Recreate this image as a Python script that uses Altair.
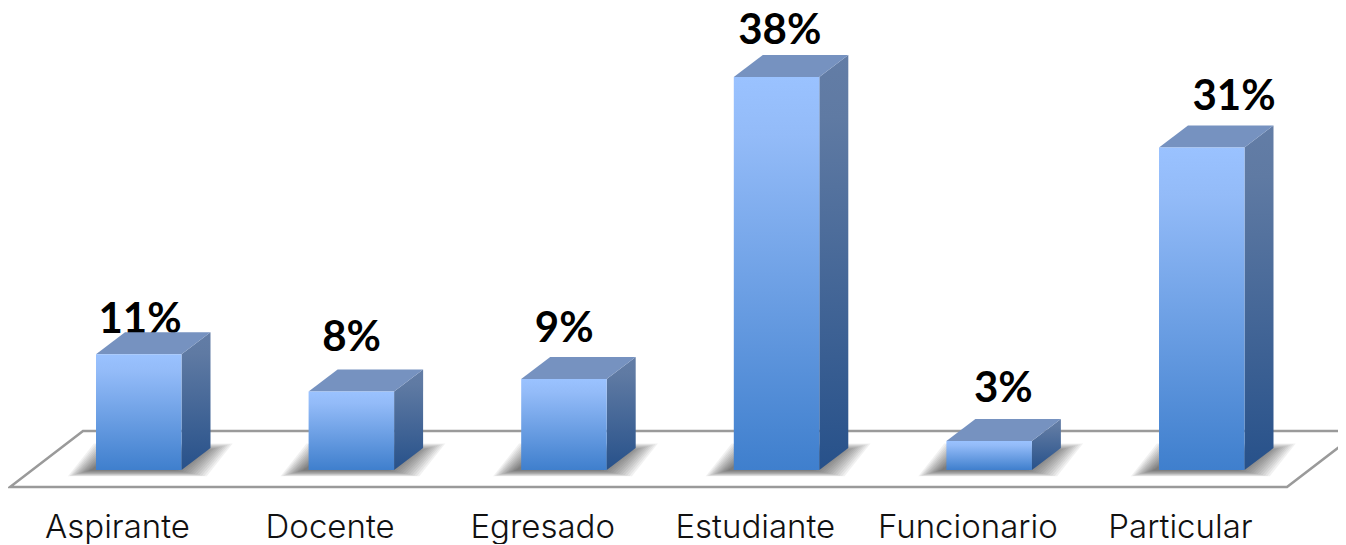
import altair as alt
import pandas as pd

CATEGORIES = ["Aspirante", "Docente", "Egresado", "Estudiante", "Funcionario", "Particular"]
VALUES = [11.2, 7.6, 8.8, 38.0, 2.8, 31.2]
LABELS = ["11%", "8%", "9%", "38%", "3%", "31%"]

# Layout: one x unit is one category slot, one y unit is one percentage point.
SLOT_PX = 212.6
PCT_PX = 10.34
PX = lambda p: p / SLOT_PX
PY = lambda p: p / PCT_PX
BAR_W = PX(85.5)
DEPTH_X = PX(29)
DEPTH_Y = PY(22)
LABEL_SHIFT_X = [PX(v) for v in (44, 43, 43, 46, 57, 75)]
LABEL_SHIFT_Y = [PY(v) for v in (21, 40, 37, 33, 39, 37)]
AXIS_SHIFT = PX(21)

FONT = "Lato"
AXIS_FONT = "Inter"


def para(rows, group, xl, xr, yb, yt, dx):
    """Sheared quadrilateral as an area: lower and upper edge at four x stops."""
    xs = [xl, xl + dx, xr, xr + dx]
    lo = [yb, yb, yb, yt]
    hi = [yb, yt, yt, yt]
    for x, a, b in zip(xs, lo, hi):
        rows.append({"g": group, "x": x, "lo": a, "hi": b})


x_scale = alt.Scale(domain=[PX(8 - 96), PX(1338 - 96)], nice=False, zero=False)
y_scale = alt.Scale(domain=[PY(470 - 500), PY(470 - 8)], nice=False, zero=False)
x_axis = alt.Axis(
    values=[i + AXIS_SHIFT for i in range(len(CATEGORIES))],
    labelExpr="{}[round(datum.value - {})]".format(CATEGORIES, AXIS_SHIFT),
    title=None, domain=False, ticks=False, grid=False,
    labelFont=AXIS_FONT, labelFontSize=33, labelFontWeight=300, labelColor="#111111",
    labelPadding=11, labelOverlap=False, labelFlush=False,
)
y_axis = None


def area_layer(rows, **mark):
    return alt.Chart(pd.DataFrame(rows)).mark_area(clip=True, **mark).encode(
        x=alt.X("x:Q", scale=x_scale, axis=x_axis),
        y=alt.Y("lo:Q", scale=y_scale, axis=y_axis),
        y2="hi:Q",
        detail="g:N",
    )


# floor
floor_rows = []
para(floor_rows, "floor", PX(10 - 96), PX(1287 - 96), PY(-17), PY(39), PX(73))
floor = area_layer(floor_rows, fill="white", stroke="#9a9a9a", strokeWidth=2.6)

# soft shadow from stacked translucent quadrilaterals
shadows = []
for k in range(14):
    rows = []
    for i in range(len(VALUES)):
        para(rows, f"s{i}", i + PX(-6 - 1.7 * k), i + BAR_W + PX(-6 + 2.4 * k),
             PY(-0.5 - k * 0.45), PY(18 + k * 0.65), PX(26))
    shadows.append(area_layer(rows, fill="#3a3a3a", opacity=0.07))

df = pd.DataFrame({
    "cat": CATEGORIES,
    "v": VALUES,
    "i": range(len(VALUES)),
    "label": LABELS,
})
df["x0"] = df["i"]
df["x1"] = df["i"] + BAR_W
df["lx"] = df["i"] + LABEL_SHIFT_X
df["ly"] = df["v"] + LABEL_SHIFT_Y

# percentage labels sit behind the bars
labels = alt.Chart(df).mark_text(
    font=FONT, fontWeight="bold", fontSize=42, baseline="alphabetic", align="center", color="black"
).encode(
    x=alt.X("lx:Q", scale=x_scale, axis=x_axis),
    y=alt.Y("ly:Q", scale=y_scale, axis=y_axis),
    text="label:N",
)

# front faces
front = alt.Chart(df).mark_rect(
    color=alt.Gradient(
        gradient="linear", x1=0, y1=0, x2=0, y2=1,
        stops=[
            alt.GradientStop(color="#9ac2ff", offset=0),
            alt.GradientStop(color="#93bbf8", offset=0.15),
            alt.GradientStop(color="#3f7fcd", offset=1),
        ],
    )
).encode(
    x=alt.X("x0:Q", scale=x_scale, axis=x_axis),
    x2="x1:Q",
    y=alt.Y("v:Q", scale=y_scale, axis=y_axis),
    y2=alt.Y2(datum=0),
)

# side faces
side_rows = []
for i, v in enumerate(VALUES):
    x = i + BAR_W
    side_rows.append({"g": f"b{i}", "x": x, "lo": 0, "hi": v})
    side_rows.append({"g": f"b{i}", "x": x + DEPTH_X, "lo": DEPTH_Y, "hi": v + DEPTH_Y})
side = area_layer(side_rows, color=alt.Gradient(
    gradient="linear", x1=0, y1=0, x2=0, y2=1,
    stops=[
        alt.GradientStop(color="#637da6", offset=0),
        alt.GradientStop(color="#5f7aa3", offset=0.15),
        alt.GradientStop(color="#27518a", offset=1),
    ],
))

# top faces
top_rows = []
for i, v in enumerate(VALUES):
    para(top_rows, f"t{i}", i, i + BAR_W, v, v + DEPTH_Y, DEPTH_X)
top = area_layer(top_rows, color="#7692c0")

chart = alt.layer(floor, *shadows, labels, side, top, front).properties(
    width=1330, height=492, padding=0, background="white"
).configure_view(stroke=None)

chart.save("out.html", embed_options={"renderer": "svg", "actions": False})
